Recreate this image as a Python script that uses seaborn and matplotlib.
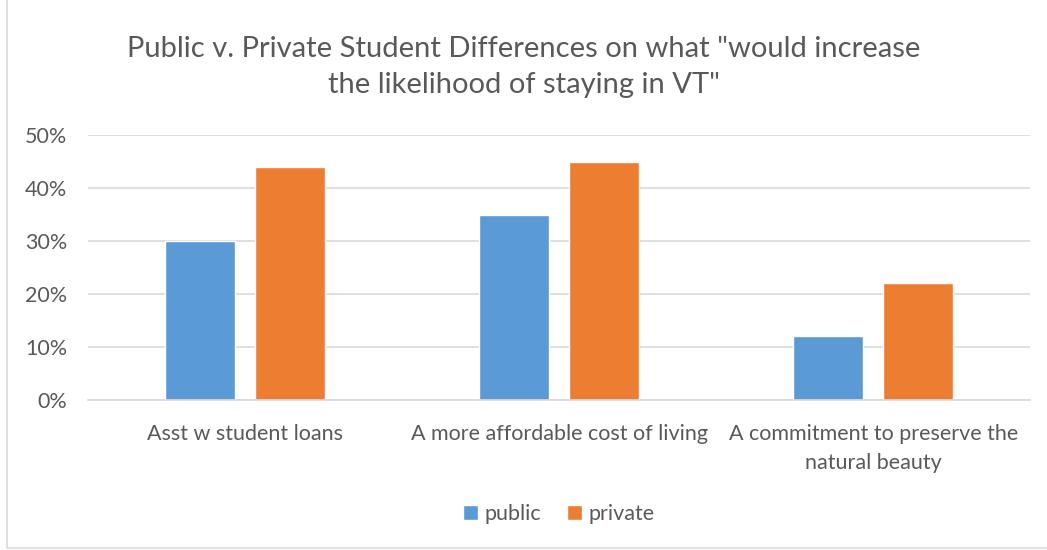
import matplotlib
matplotlib.use("Agg")
import matplotlib.pyplot as plt
import seaborn as sns
import pandas as pd
from matplotlib.patches import Rectangle
from matplotlib.ticker import PercentFormatter

categories = ["Asst w student loans",
              "A more affordable cost of living",
              "A commitment to preserve the\nnatural beauty"]
public = [0.30, 0.35, 0.12]
private = [0.44, 0.45, 0.22]
series = ["public", "private"]
colors = {"public": "#5B9BD5", "private": "#ED7D31"}

df = pd.DataFrame({
    "category": categories * 2,
    "value": public + private,
    "group": [series[0]] * 3 + [series[1]] * 3,
})

sns.set_theme(style="white")
plt.rcParams["font.family"] = ["Lato", "DejaVu Sans"]
text_color = "#595959"

fig = plt.figure(figsize=(10.47, 5.5), dpi=100)
ax = fig.add_axes([0.084, 0.2727, 0.9, 0.4818])

sns.barplot(data=df, x="category", y="value", hue="group", palette=colors,
            width=0.575, gap=0.222, ax=ax, legend=True, saturation=1)

ax.set_ylim(0, 0.5)
ax.set_yticks([0, 0.1, 0.2, 0.3, 0.4, 0.5])
ax.yaxis.set_major_formatter(PercentFormatter(1.0, decimals=0))
ax.set_xlim(-0.5, 2.5)
ax.grid(axis="y", color="#D9D9D9", linewidth=1.2)
ax.set_axisbelow(True)
for s in ["top", "right", "left"]:
    ax.spines[s].set_visible(False)
ax.spines["bottom"].set_color("#D9D9D9")
ax.spines["bottom"].set_linewidth(1.2)
ax.set_xlabel("")
ax.set_ylabel("")
ax.tick_params(axis="y", length=0, pad=15, labelsize=15.5, labelcolor=text_color)
ax.tick_params(axis="x", length=0, pad=17, labelsize=15.5, labelcolor=text_color)
for lbl in ax.get_xticklabels():
    lbl.set_linespacing(1.6)

leg = ax.legend(loc="center", bbox_to_anchor=(0.5, -0.43), ncol=2, frameon=False,
                fontsize=15.5, handlelength=0.7, handleheight=0.7,
                columnspacing=1.2, handletextpad=0.3)
for t in leg.get_texts():
    t.set_color(text_color)

fig.text(0.5, 0.878,
         "Public v. Private Student Differences on what \"would increase\nthe likelihood of staying in VT\"",
         ha="center", va="center", fontsize=21, color=text_color, linespacing=1.5)

# chart border
fig.patches.append(Rectangle((0.0067, 0.004), 1.2, 1.2, transform=fig.transFigure,
                             fill=False, edgecolor="#D9D9D9", linewidth=1.2))

fig.savefig("out.png", dpi=100)
